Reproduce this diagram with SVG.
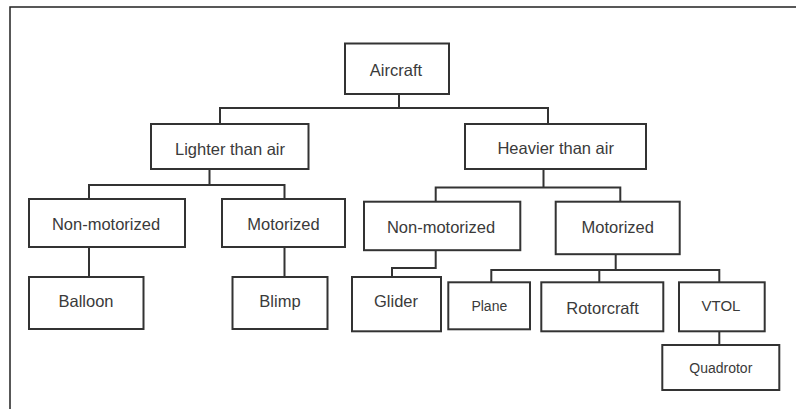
<svg xmlns="http://www.w3.org/2000/svg" width="796" height="409" viewBox="0 0 796 409">
<style>
.box{fill:#fff;stroke:#333;stroke-width:2}
.t{font-family:"Liberation Sans",Arial,sans-serif;font-size:16.5px;fill:#3a3a3a;text-anchor:middle}
.s{font-size:14px}
.m{font-size:15px}
.c{fill:none;stroke:#333;stroke-width:2}
.f{fill:none;stroke:#222;stroke-width:1.5}
</style>
<rect width="796" height="409" fill="#fff"/>
<path class="f" d="M10 409V7H796"/>
<g id="connectors">
<path class="c" d="M399 94V108M220 124V108H548V124"/>
<path class="c" d="M209.5 169V185M89 199V185H284.5V199"/>
<path class="c" d="M89 247V277M284.5 247V277"/>
<path class="c" d="M543.5 169V187.5M435.7 201.7V187.5H620.3V201.7"/>
<path class="c" d="M435.7 250V268H392V277"/>
<path class="c" d="M615.7 254V270M491.3 282V270H719.3V282M599.3 270V282"/>
<path class="c" d="M719.3 331V345"/>
</g>
<g id="aircraft"><rect class="box" x="345" y="43.5" width="104" height="50.5"/><text class="t" x="396" y="76">Aircraft</text></g>
<g id="lighter"><rect class="box" x="151" y="124" width="157.5" height="45"/><text class="t" x="230" y="154.5">Lighter than air</text></g>
<g id="heavier"><rect class="box" x="465" y="124" width="181" height="45"/><text class="t" x="555.7" y="154">Heavier than air</text></g>
<g id="nonmot-l"><rect class="box" x="29" y="199" width="156" height="48"/><text class="t" x="106" y="229.5">Non-motorized</text></g>
<g id="mot-l"><rect class="box" x="222" y="199" width="123" height="48"/><text class="t" x="283.5" y="229.5">Motorized</text></g>
<g id="balloon"><rect class="box" x="29" y="277" width="114.5" height="52"/><text class="t" x="86" y="307">Balloon</text></g>
<g id="blimp"><rect class="box" x="232.5" y="277" width="95" height="52"/><text class="t" x="280" y="307">Blimp</text></g>
<g id="nonmot-r"><rect class="box" x="364" y="201.7" width="156.3" height="48.5"/><text class="t" x="441" y="233">Non-motorized</text></g>
<g id="mot-r"><rect class="box" x="555.7" y="201.7" width="124" height="52.5"/><text class="t" x="617.7" y="233">Motorized</text></g>
<g id="glider"><rect class="box" x="352" y="277" width="89" height="54.3"/><text class="t" x="396" y="307">Glider</text></g>
<g id="plane"><rect class="box" x="448.3" y="282.3" width="81.7" height="47"/><text class="t s" x="489.3" y="311">Plane</text></g>
<g id="rotorcraft"><rect class="box" x="541.3" y="282.3" width="122" height="49"/><text class="t" x="602.5" y="313.5">Rotorcraft</text></g>
<g id="vtol"><rect class="box" x="679" y="282.3" width="85.7" height="49"/><text class="t m" x="721" y="311">VTOL</text></g>
<g id="quadrotor"><rect class="box" x="662.3" y="345" width="117" height="45"/><text class="t s" x="720.8" y="373">Quadrotor</text></g>
</svg>
